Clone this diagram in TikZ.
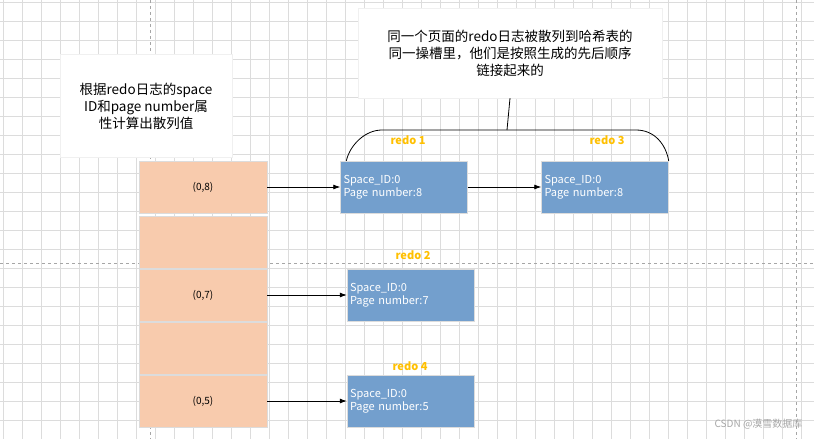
\documentclass[tikz,border=0pt]{standalone}
\usepackage{fontspec}
\setmainfont{Noto Sans CJK SC}
\usetikzlibrary{arrows.meta}
\definecolor{gridc}{HTML}{DCDCDC}
\definecolor{peach}{HTML}{F8CBAD}
\definecolor{bluebox}{HTML}{739FCD}
\definecolor{redoc}{HTML}{FFC000}
\begin{document}
\begin{tikzpicture}[x=1pt,y=-1pt,
  cell/.style={draw=gridc,fill=peach,minimum width=128pt,minimum height=52pt,inner sep=0pt,font=\fontsize{10}{12}\selectfont},
  rec/.style={draw=gridc,fill=bluebox,text=white,minimum width=127pt,minimum height=52pt,inner sep=2pt,align=left,text width=121pt,font=\fontsize{11}{13}\selectfont},
  lbl/.style={text=redoc,font=\bfseries\fontsize{11}{13}\selectfont},
  note/.style={fill=white,draw=black!6,align=center,inner sep=0pt,font=\fontsize{13.5}{17}\selectfont},
  arr/.style={thick,-{Latex[length=7pt,width=5pt]}}]
\useasboundingbox (0,0) rectangle (814,439);
\fill[white] (0,0) rectangle (814,439);
\foreach \i in {0,...,43} \draw[gridc,line width=0.6pt] (\i*19+3,0) -- (\i*19+3,439);
\foreach \j in {0,...,23} \draw[gridc,line width=0.6pt] (0,\j*19+2) -- (814,\j*19+2);
\draw[gray!70,dashed,line width=0.8pt] (150,0) -- (150,439);
\draw[gray!70,dashed,line width=0.8pt] (0,263) -- (814,263);
\draw[gray!70,dashed,line width=0.8pt] (796,0) -- (796,439);

\node[note,minimum width=172pt,minimum height=103pt] (n1) at (146,106) {根据redo日志的space\\ID和page number属\\性计算出散列值};
\node[note,minimum width=304pt,minimum height=90pt] (n2) at (510,53) {同一个页面的redo日志被散列到哈希表的\\同一操槽里，他们是按照生成的先后顺序\\链接起来的};

\node[cell] (c1) at (203,187) {(0,8)};
\node[cell] (c2) at (203,242) {};
\node[cell] (c3) at (203,295) {(0,7)};
\node[cell] (c4) at (203,348) {};
\node[cell] (c5) at (203,401) {(0,5)};

\node[rec] (r1) at (404,187) {Space\_ID:0\\Page number:8};
\node[rec] (r3) at (605,187) {Space\_ID:0\\Page number:8};
\node[rec] (r2) at (410.5,295) {Space\_ID:0\\Page number:7};
\node[rec] (r4) at (410.5,401) {Space\_ID:0\\Page number:5};

\node[lbl] (l1) at (408,140) {redo 1};
\node[lbl] (l3) at (607,140) {redo 3};
\node[lbl] (l2) at (413,255) {redo 2};
\node[lbl] (l4) at (410,366) {redo 4};

\draw[arr] (c1.east) -- (r1.west);
\draw[arr] (r1.east) -- (r3.west);
\draw[arr] (c3.east) -- (r2.west);
\draw[arr] (c5.east) -- (r4.west);

\coordinate (b) at (507,130);
\draw[thick] (n2.south) -- (b);
\draw[thick] (r1.north west) ++(6,0) .. controls (350,145) and (365,130) .. (382,130) -- (636,130) .. controls (655,130) and (666,145) .. (r3.north east);

\node[text=gray!70,anchor=east,font=\fontsize{10}{12}\selectfont] (wm) at (806,424) {CSDN @漠雪数据库};
\end{tikzpicture}
\end{document}
